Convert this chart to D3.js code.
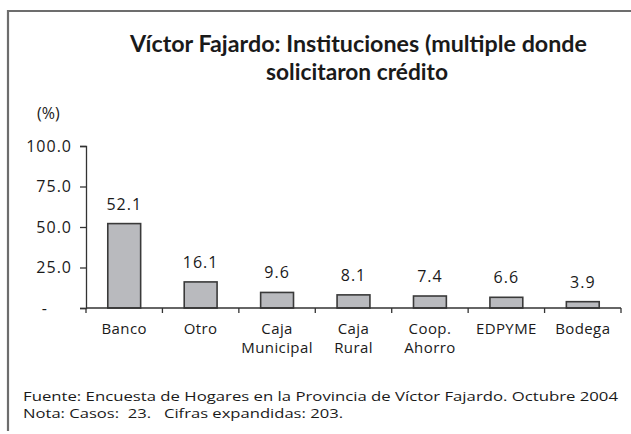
<!DOCTYPE html>
<html>
<head>
<meta charset="utf-8">
<script src="https://d3js.org/d3.v7.min.js"></script>
<style>
  body { margin: 0; background: #fff; }
  text { font-family: "Open Sans", "Noto Sans", sans-serif; fill: #1a1a1a; }
</style>
</head>
<body>
<svg id="vis"></svg>
<script>
    // chart data
    var categories = [["Banco"], ["Otro"], ["Caja", "Municipal"], ["Caja", "Rural"], ["Coop.", "Ahorro"], ["EDPYME"], ["Bodega"]];
    var values = [52.1, 16.1, 9.6, 8.1, 7.4, 6.6, 3.9];
    var yTicks = [0, 25, 50, 75, 100];
    var titleLines = ["Víctor Fajardo: Instituciones (multiple donde", "solicitaron crédito"];
    var footLines = ["Fuente: Encuesta de Hogares en la Provincia de Víctor Fajardo. Octubre 2004", "Nota: Casos:  23.   Cifras expandidas: 203."];

    var W = 631, H = 434;
    var svg = d3.select("#vis").attr("width", W).attr("height", H);

    // frame (top and left edges visible)
    svg.append("path")
        .attr("d", "M8,431 L8,11 L631,11")
        .attr("fill", "none")
        .attr("stroke", "#6d6d6d")
        .attr("stroke-width", 2.2);

    // title
    svg.append("text")
        .attr("x", 130).attr("y", 52)
        .attr("textLength", 457).attr("lengthAdjust", "spacingAndGlyphs")
        .style("font-family", "Lato, 'Open Sans', sans-serif")
        .style("font-size", "22px").style("font-weight", "bold")
        .text(titleLines[0]);
    svg.append("text")
        .attr("x", 266).attr("y", 80)
        .attr("textLength", 182).attr("lengthAdjust", "spacingAndGlyphs")
        .style("font-family", "Lato, 'Open Sans', sans-serif")
        .style("font-size", "22px").style("font-weight", "bold")
        .text(titleLines[1]);

    // unit label
    svg.append("text")
        .attr("x", 37).attr("y", 119)
        .style("font-size", "16px")
        .text("(%)");

    var x0 = 86, x1 = 621, yTop = 146, yBase = 308;

    var x = d3.scaleBand()
        .domain(d3.range(values.length))
        .range([x0, x1])
        .paddingInner(0.57)
        .paddingOuter(0.285);

    var y = d3.scaleLinear()
        .domain([0, 100])
        .range([yBase, yTop]);

    // y axis
    var yAxis = svg.append("g")
        .attr("transform", "translate(" + x0 + ",0)")
        .call(d3.axisLeft(y)
            .tickValues(yTicks)
            .tickSize(6)
            .tickPadding(8)
            .tickFormat(function(d) { return d === 0 ? "-" : d.toFixed(1); }));
    yAxis.select(".domain").attr("stroke", "#333").attr("stroke-width", 1.3);
    yAxis.selectAll(".tick line").attr("stroke", "#333").attr("stroke-width", 1.3);
    yAxis.selectAll(".tick text")
        .style("font-size", "16px")
        .style("letter-spacing", "1px")
        .style("font-family", "'Open Sans', sans-serif")
        .attr("fill", "#1a1a1a")
        .filter(function(d) { return d === 0; })
        .attr("x", -38);

    // bars
    svg.append("g")
        .selectAll("rect")
        .data(values)
        .enter()
        .append("rect")
            .attr("x", function(d, i) { return x(i); })
            .attr("width", x.bandwidth())
            .attr("y", function(d) { return y(d); })
            .attr("height", function(d) { return yBase - y(d); })
            .attr("fill", "#b9babe")
            .attr("stroke", "#3a3a3a")
            .attr("stroke-width", 1.6);

    // value labels
    svg.append("g")
        .selectAll("text")
        .data(values)
        .enter()
        .append("text")
            .attr("x", function(d, i) { return x(i) + x.bandwidth() / 2; })
            .attr("y", function(d) { return y(d) - 14; })
            .attr("text-anchor", "middle")
            .style("font-size", "16px")
            .style("letter-spacing", "1px")
            .text(function(d) { return d.toFixed(1); });

    // x axis line and category boundary ticks
    var bounds = d3.range(values.length + 1).map(function(i) { return x0 + i * (x1 - x0) / values.length; });
    svg.append("line")
        .attr("x1", x0).attr("x2", x1)
        .attr("y1", yBase).attr("y2", yBase)
        .attr("stroke", "#333").attr("stroke-width", 1.3);
    svg.append("g")
        .selectAll("line")
        .data(bounds)
        .enter()
        .append("line")
            .attr("x1", function(d) { return d; }).attr("x2", function(d) { return d; })
            .attr("y1", yBase).attr("y2", yBase + 5)
            .attr("stroke", "#333").attr("stroke-width", 1.3);

    // category labels, one text per line
    var catLines = [];
    categories.forEach(function(c, i) {
        c.forEach(function(s, j) { catLines.push({i: i, j: j, s: s}); });
    });
    svg.append("g")
        .selectAll("text")
        .data(catLines)
        .enter()
        .append("text")
            .attr("x", function(d) { return x(d.i) + x.bandwidth() / 2; })
            .attr("y", function(d) { return 334 + d.j * 19; })
            .attr("text-anchor", "middle")
            .style("font-size", "15px")
            .style("letter-spacing", "0.4px")
            .text(function(d) { return d.s; });

    // footnotes
    svg.append("text")
        .attr("x", 23).attr("y", 400.5)
        .attr("textLength", 595).attr("lengthAdjust", "spacingAndGlyphs")
        .style("font-size", "13.5px")
        .text(footLines[0]);
    svg.append("text")
        .attr("x", 23).attr("y", 418)
        .attr("xml:space", "preserve")
        .style("white-space", "pre")
        .style("font-size", "13.5px")
        .attr("textLength", 320).attr("lengthAdjust", "spacingAndGlyphs")
        .text(footLines[1]);
</script>
</body>
</html>
